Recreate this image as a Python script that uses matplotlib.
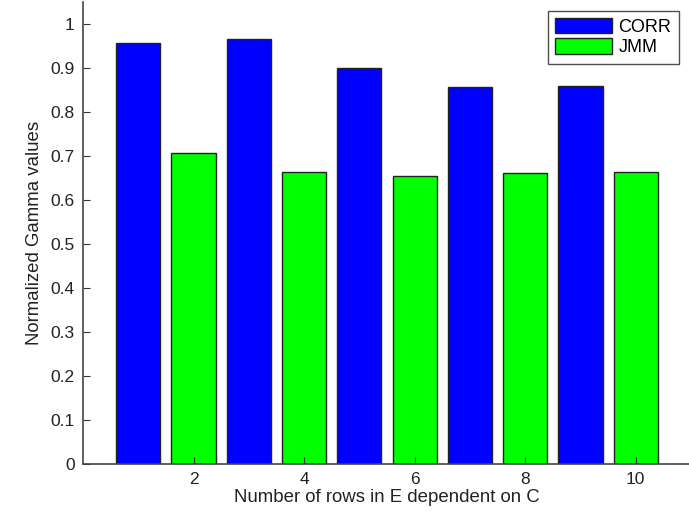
import matplotlib
matplotlib.use("Agg")
import matplotlib.pyplot as plt
import numpy as np

plt.rcParams['font.family'] = ['Liberation Sans', 'DejaVu Sans']

# Bar values: CORR on odd positions, JMM on even positions
corr_pos = [1, 3, 5, 7, 9]
corr_vals = [0.957, 0.966, 0.900, 0.857, 0.860]
jmm_pos = [2, 4, 6, 8, 10]
jmm_vals = [0.707, 0.663, 0.655, 0.661, 0.663]
xticks = [2, 4, 6, 8, 10]
yticks = np.arange(0, 1.01, 0.1)

fig = plt.figure(figsize=(6.89, 5.15), dpi=100)
ax = fig.add_axes([83 / 689, 1 - 464 / 515, 608 / 689, 462 / 515])

ax.bar(corr_pos, corr_vals, width=0.8, color='#0000ff', edgecolor='#222222', linewidth=1, label='CORR')
ax.bar(jmm_pos, jmm_vals, width=0.8, color='#00ff00', edgecolor='#222222', linewidth=1, label='JMM')

ax.set_xlim(0, 11)
ax.set_ylim(0, 1.05)
ax.set_xticks(xticks)
ax.set_yticks(yticks)
ax.set_yticklabels(['0'] + ['%.1f' % v for v in yticks[1:-1]] + ['1'])
ax.tick_params(direction='in', length=5, labelsize=12.5, colors='#333333', labelcolor='#222222', pad=6)

for side in ['top', 'right']:
    ax.spines[side].set_visible(False)
for side in ['left', 'bottom']:
    ax.spines[side].set_color('#444444')
    ax.spines[side].set_linewidth(1.2)

ax.set_xlabel('Number of rows in E dependent on C', fontsize=13.4, color='#222222', labelpad=1)
ax.set_ylabel('Normalized Gamma values', fontsize=13.4, color='#222222', labelpad=5)

leg = ax.legend(loc='upper left', bbox_to_anchor=(548 / 689, 1 - 10.5 / 515),
                bbox_transform=fig.transFigure, fontsize=13, frameon=True,
                fancybox=False, handlelength=3.15, handleheight=0.95,
                labelspacing=0.15, borderpad=0.4, handletextpad=0.35, borderaxespad=0)
leg.get_frame().set_edgecolor('#222222')
leg.get_frame().set_linewidth(1)

fig.savefig('out.png', dpi=100)
